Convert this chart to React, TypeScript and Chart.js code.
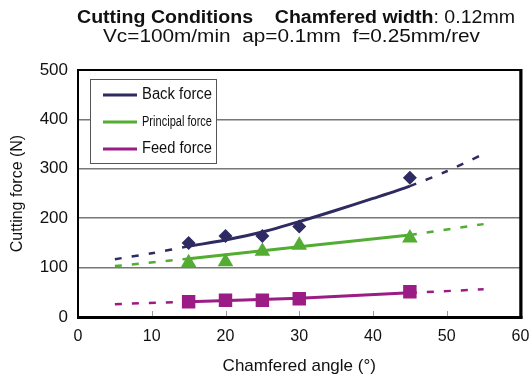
import { useEffect, useRef } from "react";
import { Chart, registerables } from "chart.js";

Chart.register(...registerables);

const FONT = "'Liberation Sans', Arial, Helvetica, sans-serif";

// measured points
const angles = [15, 20, 25, 30, 45];
const backForce = [150, 164, 164, 183, 282];
const principalForce = [110, 112, 133, 145, 160];
const feedForce = [31, 34, 34, 37, 51];

// fitted trend lines (solid inside 15..45, dashed outside)
const backFitAngles = [5, 10, 15, 20, 25, 30, 35, 40, 45, 50, 55];
const backFit = [117, 129, 143, 156, 172, 193, 216, 240, 265, 295, 330];
const lineFitAngles = [5, 15, 30, 45, 55];
const principalFit = [103, 118, 142, 166, 188];
const feedFit = [26, 31, 38, 49, 56];

const FIT_START = 15;
const FIT_END = 45;

const seriesNames = ["Back force", "Principal force", "Feed force"];
const seriesColors = ["#2d2b62", "#52ad32", "#9a1c84"];
const markerStyles = ["rectRot", "triangle", "rect"];
const markerRadius = [7, 9, 9.5];
const xTickMarks = [10, 20, 30, 40, 50];

const titleBold = "Cutting Conditions    Chamfered width";
const titleNormal = ": 0.12mm";
const titleLine2 = "Vc=100m/min  ap=0.1mm  f=0.25mm/rev";
const xTitle = "Chamfered angle (\u00b0)";
const yTitle = "Cutting force (N)";

const toXY = (xs: number[], ys: number[]) => xs.map((x, i) => ({ x, y: ys[i] }));

const decorPlugin = {
  id: "decor",
  afterDatasetsDraw(chart: any) {
    const { ctx, chartArea: a, scales } = chart;
    ctx.save();
    // inner x tick marks
    ctx.strokeStyle = "#999";
    ctx.lineWidth = 1;
    xTickMarks.forEach((v) => {
      const px = Math.round(scales.x.getPixelForValue(v)) + 0.5;
      ctx.beginPath();
      ctx.moveTo(px, a.bottom);
      ctx.lineTo(px, a.bottom - 6);
      ctx.stroke();
    });
    // plot border
    ctx.strokeStyle = "#000";
    ctx.lineWidth = 2;
    ctx.strokeRect(a.left, a.top, a.right - a.left, a.bottom - a.top);
    ctx.lineWidth = 3;
    ctx.beginPath();
    ctx.moveTo(a.right + 0.5, a.top - 1);
    ctx.lineTo(a.right + 0.5, a.bottom + 1.5);
    ctx.stroke();
    ctx.beginPath();
    ctx.moveTo(a.left - 1, a.bottom + 0.5);
    ctx.lineTo(a.right + 2, a.bottom + 0.5);
    ctx.stroke();

    // legend box
    const lx = a.left + 12;
    const ly = a.top + 9;
    const lw = 126;
    const lh = 84;
    ctx.fillStyle = "#fff";
    ctx.fillRect(lx, ly, lw, lh);
    ctx.strokeStyle = "#555";
    ctx.lineWidth = 1;
    ctx.strokeRect(lx + 0.5, ly + 0.5, lw, lh);
    const fits = chart.data.datasets.filter((d: any) => d.isFit);
    fits.forEach((d: any, i: number) => {
      const y = ly + 16 + i * 27;
      ctx.strokeStyle = d.borderColor;
      ctx.lineWidth = 3;
      ctx.beginPath();
      ctx.moveTo(lx + 13, y);
      ctx.lineTo(lx + 47, y);
      ctx.stroke();
      ctx.fillStyle = "#111";
      ctx.textBaseline = "middle";
      ctx.textAlign = "left";
      if (i === 1) {
        ctx.font = `13px ${FONT}`;
        const w = ctx.measureText(d.label).width;
        ctx.save();
        ctx.translate(lx + 52, y);
        ctx.scale(70 / w, 1.1);
        ctx.fillText(d.label, 0, 0);
        ctx.restore();
      } else {
        ctx.font = `16px ${FONT}`;
        const w = ctx.measureText(d.label).width;
        ctx.save();
        ctx.translate(lx + 52, y);
        ctx.scale(70 / w, 1);
        ctx.fillText(d.label, 0, 0);
        ctx.restore();
      }
    });
    ctx.restore();
  },
  afterDraw(chart: any) {
    const { ctx } = chart;
    ctx.save();
    ctx.fillStyle = "#111";
    ctx.textBaseline = "middle";
    ctx.textAlign = "left";
    // line 1
    ctx.font = `bold 18px ${FONT}`;
    const wb = ctx.measureText(titleBold).width;
    ctx.font = `18px ${FONT}`;
    const wn = ctx.measureText(titleNormal).width;
    const s1 = 438 / (wb + wn);
    ctx.save();
    ctx.translate(77, 18);
    ctx.scale(s1, 1);
    ctx.font = `bold 18px ${FONT}`;
    ctx.fillText(titleBold, 0, 0);
    ctx.font = `18px ${FONT}`;
    ctx.fillText(titleNormal, wb, 0);
    ctx.restore();
    // line 2
    ctx.font = `19px ${FONT}`;
    const w2 = ctx.measureText(titleLine2).width;
    ctx.save();
    ctx.translate(103, 37);
    ctx.scale(377 / w2, 1);
    ctx.fillText(titleLine2, 0, 0);
    ctx.restore();
    ctx.restore();
  },
};

export default function App() {
  const ref = useRef<HTMLCanvasElement | null>(null);

  useEffect(() => {
    document.body.style.margin = "0";
    const canvas = ref.current;
    if (!canvas) return;

    const measured = [backForce, principalForce, feedForce];
    const fits = [toXY(backFitAngles, backFit), toXY(lineFitAngles, principalFit), toXY(lineFitAngles, feedFit)];

    const datasets: any[] = [];
    measured.forEach((vals, i) => {
      datasets.push({
        label: seriesNames[i] + " (measured)",
        data: toXY(angles, vals),
        showLine: false,
        pointStyle: markerStyles[i],
        pointRadius: markerRadius[i],
        pointBackgroundColor: seriesColors[i],
        pointBorderColor: seriesColors[i],
        pointBorderWidth: 0,
        borderColor: seriesColors[i],
        order: 0,
      });
    });
    fits.forEach((pts, i) => {
      datasets.push({
        label: seriesNames[i],
        isFit: true,
        data: pts,
        showLine: true,
        borderColor: seriesColors[i],
        borderWidth: 3,
        pointRadius: 0,
        tension: i === 0 ? 0.25 : 0,
        segment: {
          borderDash: (c: any) =>
            c.p0.parsed.x < FIT_START || c.p1.parsed.x > FIT_END ? [7, 10] : undefined,
          borderWidth: (c: any) =>
            c.p0.parsed.x < FIT_START || c.p1.parsed.x > FIT_END ? 2.5 : 3,
        },
        order: 1,
      });
    });

    const chart = new Chart(canvas, {
      type: "line",
      data: { datasets },
      options: {
        responsive: false,
        animation: false,
        layout: { padding: { top: 70, right: 0, left: 0, bottom: 0 } },
        plugins: {
          legend: { display: false },
          title: { display: false },
          tooltip: { enabled: false },
        },
        scales: {
          x: {
            type: "linear",
            min: 0,
            max: 60,
            ticks: { stepSize: 10, color: "#111", font: { family: FONT, size: 16 }, padding: 0 },
            grid: {
              display: true,
              drawOnChartArea: false,
              drawTicks: true,
              tickLength: 10,
              tickColor: "rgba(0,0,0,0)",
              color: "rgba(0,0,0,0)",
            },
            border: { display: false },
            title: {
              display: true,
              text: xTitle,
              color: "#111",
              font: { family: FONT, size: 17 },
              padding: { top: 0, bottom: 1 },
            },
            afterFit: (s: any) => {
              s.height = 61;
            },
          },
          y: {
            type: "linear",
            min: 0,
            max: 500,
            ticks: { stepSize: 100, color: "#111", font: { family: FONT, size: 17 }, padding: 10 },
            grid: { color: "#777", lineWidth: 1.5, drawTicks: false },
            border: { display: false },
            title: {
              display: true,
              text: yTitle,
              color: "#111",
              font: { family: FONT, size: 16 },
              padding: { top: 8, bottom: 0 },
            },
            afterFit: (s: any) => {
              s.width = 78;
            },
          },
        },
      } as any,
      plugins: [decorPlugin],
    });
    return () => chart.destroy();
  }, []);

  return <canvas ref={ref} width={530} height={378} style={{ display: "block" }} />;
}
